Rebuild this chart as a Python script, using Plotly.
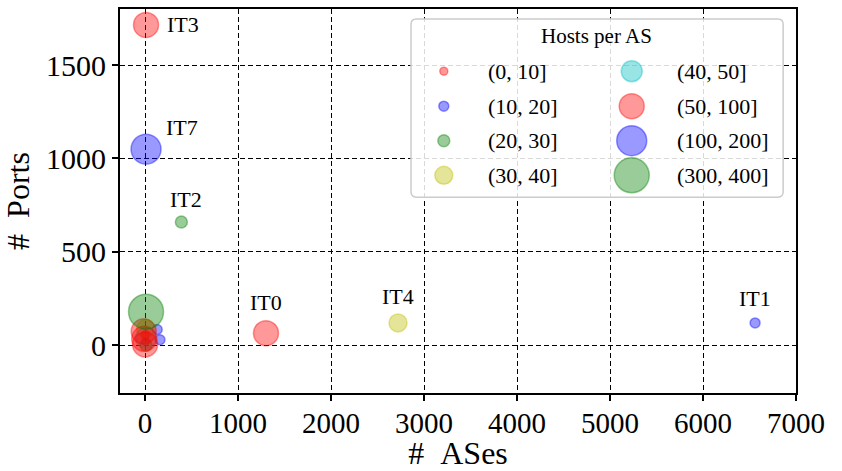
import plotly.graph_objects as go

# Host-count buckets (legend order), with marker colour and size per bucket
buckets = ["(0, 10]", "(10, 20]", "(20, 30]", "(30, 40]",
           "(40, 50]", "(50, 100]", "(100, 200]", "(300, 400]"]
bucket_colors = ["255,0,0", "0,0,255", "0,128,0", "191,191,0",
                 "0,191,191", "255,0,0", "0,0,255", "0,128,0"]
bucket_sizes = [8, 10, 12, 18, 21, 25, 30, 35]

# Points: number of ASes, number of ports, bucket, label
ases = [10, 10, 390, 1300, 2720, 6560,
        10, 5, 10, 130, 160, -15, -10, 0, 0, 5, 10, 5]
ports = [1715, 1050, 660, 65, 120, 120,
         180, 90, 40, 85, 30, 75, 35, 5, 55, 20, 0, 60]
point_bucket = ["(50, 100]", "(100, 200]", "(20, 30]", "(50, 100]", "(30, 40]", "(10, 20]",
                "(300, 400]", "(30, 40]", "(40, 50]", "(10, 20]", "(10, 20]",
                "(50, 100]", "(50, 100]", "(50, 100]", "(0, 10]", "(0, 10]",
                "(20, 30]", "(0, 10]"]
point_label = ["IT3", "IT7", "IT2", "IT0", "IT4", "IT1"] + [""] * 12
# label offsets in pixels (right, up) from the marker centre
label_shift = {"IT3": (37, 0), "IT7": (36, 22), "IT2": (5, 23),
               "IT0": (0, 31), "IT4": (0, 26), "IT1": (0, 24)}

x_ticks = [0, 1000, 2000, 3000, 4000, 5000, 6000, 7000]
y_ticks = [0, 500, 1000, 1500]

FONT = "Liberation Serif"

fig = go.Figure()

for b, col, sz in zip(buckets, bucket_colors, bucket_sizes):
    idx = [i for i, pb in enumerate(point_bucket) if pb == b]
    if not idx:
        continue
    fig.add_trace(go.Scatter(
        x=[ases[i] for i in idx], y=[ports[i] for i in idx],
        mode="markers", name=b, showlegend=False, hoverinfo="skip",
        marker=dict(size=sz, color=f"rgba({col},0.4)",
                    line=dict(color=f"rgba({col},0.4)", width=1.5)),
    ))

for xi, yi, lab in zip(ases, ports, point_label):
    if lab:
        dx, dy = label_shift[lab]
        fig.add_annotation(x=xi, y=yi, text=lab, showarrow=False,
                           xshift=dx, yshift=dy, yanchor="middle",
                           font=dict(family=FONT, size=22, color="black"))

axis_common = dict(
    showline=True, linecolor="black", linewidth=2, mirror=True,
    ticks="outside", ticklen=6, tickwidth=1.5, tickcolor="black",
    showgrid=True, gridcolor="black", gridwidth=1.4, griddash="5px,3px",
    zeroline=False,
)
fig.update_xaxes(range=[-270, 7000], tickvals=x_ticks, ticklabelstandoff=-3,
                 tickfont=dict(family=FONT, size=29, color="black"),
                 title=dict(text="#&nbsp;&nbsp;ASes", font=dict(family=FONT, size=32, color="black"),
                            standoff=3),
                 **axis_common)
fig.update_yaxes(range=[-255, 1800], tickvals=y_ticks,
                 tickfont=dict(family=FONT, size=30, color="black"),
                 title=dict(text="#&nbsp;&nbsp;Ports", font=dict(family=FONT, size=32, color="black"),
                            standoff=8),
                 **axis_common)

# Custom legend box drawn in paper coordinates
lx0, lx1, ly0, ly1 = 0.4305, 0.981, 0.510, 0.974
rx, ry = 0.008, 0.014
path = (f"M {lx0+rx},{ly0} L {lx1-rx},{ly0} Q {lx1},{ly0} {lx1},{ly0+ry} "
        f"L {lx1},{ly1-ry} Q {lx1},{ly1} {lx1-rx},{ly1} L {lx0+rx},{ly1} "
        f"Q {lx0},{ly1} {lx0},{ly1-ry} L {lx0},{ly0+ry} Q {lx0},{ly0} {lx0+rx},{ly0} Z")
fig.add_shape(type="path", path=path, xref="paper", yref="paper", layer="above",
              fillcolor="rgba(255,255,255,0.85)", line=dict(color="#cccccc", width=1.5))
fig.add_annotation(x=0.7056, y=0.930, xref="paper", yref="paper", text="Hosts per AS",
                   showarrow=False, xanchor="center", yanchor="middle",
                   font=dict(family=FONT, size=21, color="black"))

row_y = [0.838, 0.747, 0.657, 0.567]
col_marker_x = [0.479, 0.757]
col_text_x = [0.541, 0.821]
for k, (b, col, sz) in enumerate(zip(buckets, bucket_colors, bucket_sizes)):
    c, r = divmod(k, 4)
    mx, my = col_marker_x[c], row_y[r]
    h = sz / 2
    fig.add_shape(type="circle", xref="paper", yref="paper", layer="above",
                  xsizemode="pixel", ysizemode="pixel", xanchor=mx, yanchor=my,
                  x0=-h, x1=h, y0=-h, y1=h,
                  fillcolor=f"rgba({col},0.4)", line=dict(color=f"rgba({col},0.4)", width=1.5))
    fig.add_annotation(x=col_text_x[c], y=my, xref="paper", yref="paper", text=b,
                       showarrow=False, xanchor="left", yanchor="middle",
                       font=dict(family=FONT, size=22, color="black"))

fig.update_layout(
    width=842, height=471,
    margin=dict(l=120, r=46, t=7, b=76),
    paper_bgcolor="white", plot_bgcolor="white",
    showlegend=False,
)

fig.write_html("out.html")
